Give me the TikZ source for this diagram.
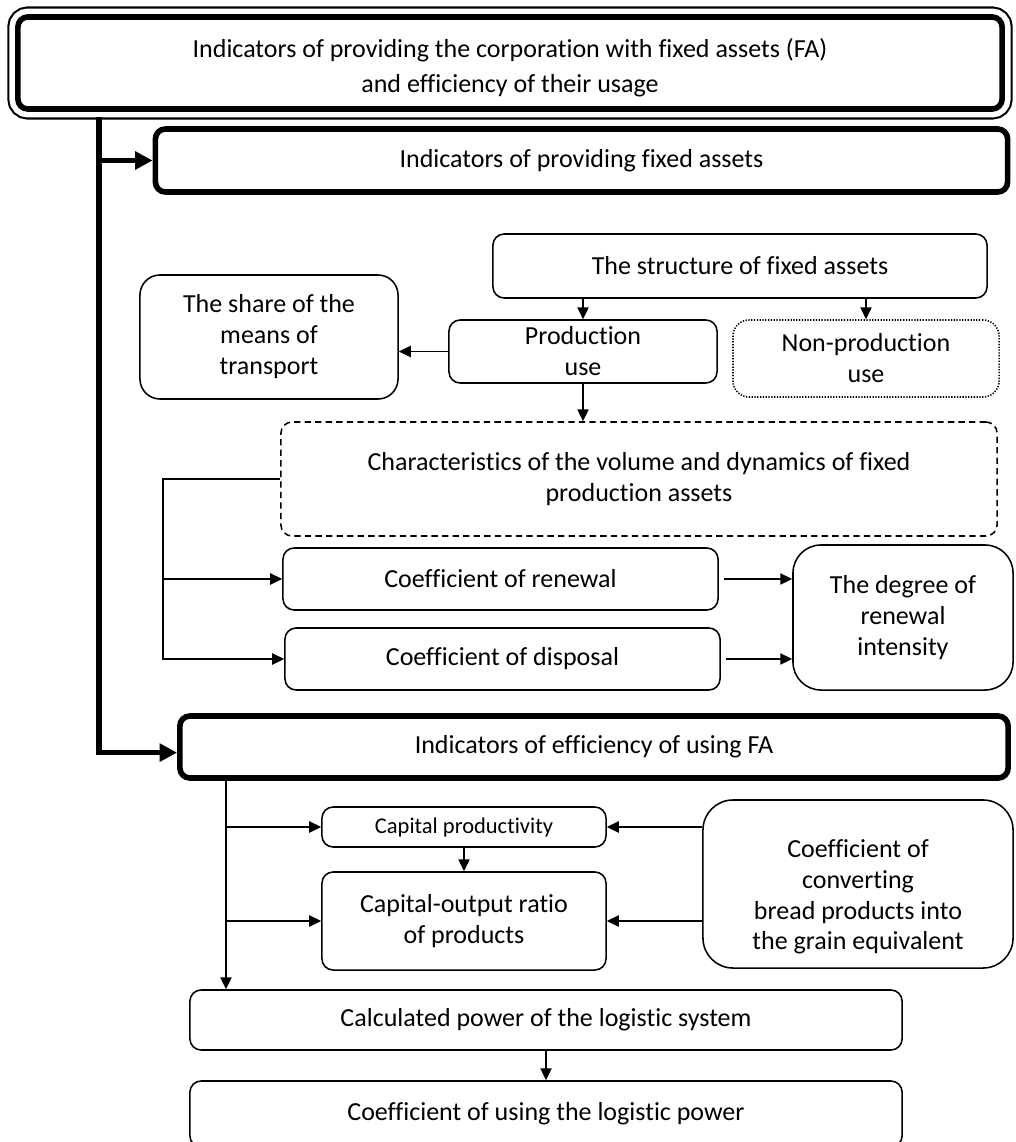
\documentclass[tikz,border=0pt]{standalone}
\usepackage{fontspec}
\setmainfont{Carlito}[Ligatures=NoCommon]
\usetikzlibrary{arrows.meta}

\begin{document}
\begin{tikzpicture}[x=0.025cm, y=-0.025cm,
  every node/.style={font=\fontsize{18.5}{22}\selectfont, align=center, inner sep=2pt},
  box/.style={draw, line width=1.1pt, rounded corners=0.28cm, fill=white},
  bigbox/.style={draw, line width=4pt, rounded corners=0.25cm, fill=white},
  dashbox/.style={box, dash pattern=on 4.5pt off 3pt},
  dotbox/.style={box, rounded corners=0.4cm, dash pattern=on 0.9pt off 1.1pt},
  arr/.style={line width=1.1pt, -{Triangle[length=8.5pt, width=8pt]}},
  bigarr/.style={line width=3.6pt, -{Triangle[length=12.5pt, width=12.5pt]}}]
  \useasboundingbox (0,0) rectangle (1015,1142);
  % Main box with a thin outer frame
  \node[bigbox, minimum width=24.6cm, minimum height=2.3cm, text height=45pt,
        font=\fontsize{18.5}{25}\selectfont,
        preaction={draw, line width=15pt}, preaction={draw, white, line width=12pt}]
        (top) at (510,63) {Indicators of providing the corporation with fixed assets (FA)\\ and efficiency of their usage};
  % Providing fixed assets
  \node[bigbox, minimum width=21.3cm, minimum height=1.575cm] (provide) at (581.5,160.5) {Indicators of providing fixed assets};
  \node[box, minimum width=12.35cm, minimum height=1.6cm] (struct) at (740,266) {The structure of fixed assets};
  \node[box, minimum width=6.7cm, minimum height=1.575cm] (prod) at (583,351.5) {Production\\ use};
  \node[dotbox, minimum width=6.65cm, minimum height=1.925cm] (nonprod) at (866,358.5) {Non-production\\ use};
  \node[box, rounded corners=0.5cm, minimum width=6.45cm, minimum height=3.1cm] (share) at (269,337) {The share of the\\ means of\\ transport};
  \node[dashbox, minimum width=17.9cm, minimum height=2.85cm] (charact) at (639,479) {Characteristics of the volume and dynamics of fixed\\ production assets};
  \node[box, minimum width=10.875cm, minimum height=1.55cm] (renewal) at (500.5,579) {Coefficient of renewal};
  \node[box, minimum width=10.875cm, minimum height=1.55cm] (disposal) at (502.5,659) {Coefficient of disposal};
  \node[box, rounded corners=0.7cm, minimum width=5.5cm, minimum height=3.625cm] (degree) at (903,617.5) {The degree of\\ renewal\\ intensity};
  % Efficiency of usage
  \node[bigbox, minimum width=20.7cm, minimum height=1.55cm] (effic) at (594,747) {Indicators of efficiency of using FA};
  \node[box, minimum width=7.1cm, minimum height=1.0cm, font=\fontsize{16}{19}\selectfont] (capprod) at (464,827) {Capital productivity};
  \node[box, minimum width=7.1cm, minimum height=2.45cm] (capout) at (464,921) {Capital-output ratio\\ of products};
  \node[box, rounded corners=0.75cm, minimum width=7.75cm, minimum height=4.2cm, text height=97pt] (convert) at (858,884) {Coefficient of\\ converting\\ bread products into\\ the grain equivalent};
  \node[box, minimum width=17.8cm, minimum height=1.5cm] (calc) at (546,1020) {Calculated power of the logistic system};
  \node[box, minimum width=17.8cm, minimum height=1.65cm] (logcoef) at (546,1114) {Coefficient of using the logistic power};

  % Thick links from the main box
  \coordinate (spine) at (99,117);
  \draw[bigarr] (spine) |- (provide.west);
  \draw[bigarr] (spine) |- ([yshift=-4pt]effic.west);

  \draw[arr] (struct.south -| prod.north) -- (prod.north);
  \draw[arr] (struct.south -| nonprod.north) -- (nonprod.north);
  \draw[arr] (prod.west) -- (prod.west -| share.east);
  \draw[arr] (prod.south) -- (prod.south |- charact.north);
  % Bracket on the left
  \coordinate (bracket) at (163,0);
  \draw[arr] (charact.west) -| (bracket |- disposal) -- (disposal.west);
  \draw[arr] (bracket |- renewal) -- (renewal.west);
  \draw[arr, shorten <=4pt] (renewal.east) -- (renewal.east -| degree.west);
  \draw[arr, shorten <=4pt] (disposal.east) -- (disposal.east -| degree.west);

  \coordinate (lspine) at (226,0);
  \draw[arr] (effic.south -| lspine) -- (calc.north -| lspine);
  \draw[arr] (lspine |- capprod) -- (capprod.west);
  \draw[arr] (lspine |- capout) -- (capout.west);
  \draw[arr] (capprod.south) -- (capout.north);
  \draw[arr] (convert.west |- capprod) -- (capprod.east);
  \draw[arr] (convert.west |- capout) -- (capout.east);
  \draw[arr] (calc.south) -- (logcoef.north);
\end{tikzpicture}
\end{document}
